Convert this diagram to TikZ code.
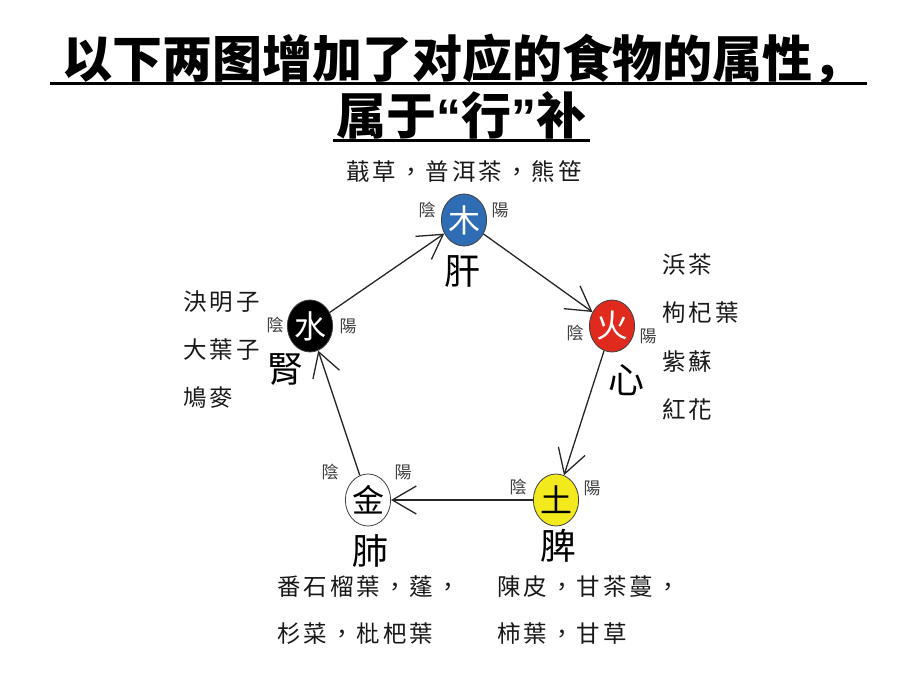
\documentclass[tikz,border=0pt]{standalone}
\usepackage{fontspec}
\usetikzlibrary{arrows.meta,shapes.geometric}
\newfontfamily\titlefont{Noto Sans CJK SC}
\newfontfamily\tcfont{Noto Sans CJK TC}
\newfontfamily\foodfont{Noto Sans CJK TC}[LetterSpace=13]
\newfontfamily\quotefont{Liberation Sans}
\definecolor{mublue}{HTML}{2E6DB4}
\definecolor{huored}{HTML}{E02A1E}
\definecolor{tuyellow}{HTML}{F2EA1C}
\tikzset{
  elem/.style={ellipse, draw=black!75, line width=0.8, minimum width=45, minimum height=52, inner sep=0,
    font=\tcfont\fontsize{32}{32}\selectfont},
  organ/.style={font=\tcfont\fontsize{36}{36}\selectfont, inner sep=0},
  yy/.style={font=\tcfont\fontsize{17}{17}\selectfont, text=black!75, inner sep=0},
  food/.style={font=\foodfont\fontsize{23.5}{23.5}\selectfont, text=black!90, inner sep=0, anchor=west},
  titletext/.style={font=\titlefont\bfseries\fontsize{50}{50}\selectfont, inner sep=0, anchor=base},
  arr/.style={-{Straight Barb[length=24pt,width=28pt]}, line width=1.3, black!85},
  uline/.style={line width=3}
}
\begin{document}
\begin{tikzpicture}[x=1pt,y=-1pt]
\useasboundingbox[fill=white] (0,0) rectangle (920,690);
% title
\node[titletext] (t1) at (462,78) {以下两图增加了对应的食物的属性，};
\node[titletext] (t2) at (461,134) {属于{\quotefont\bfseries “}行{\quotefont\bfseries ”}补};
\draw[uline] (50,84) -- (867,84);
\draw[uline] (333,140) -- (590,140);
% elements
\node[elem, fill=mublue, text=white] (mu) at (464,220) {木};
\node[elem, fill=huored, text=white] (huo) at (612,326) {火};
\node[elem, fill=tuyellow, text=black] (tu) at (556,500) {土};
\node[elem, fill=white, text=black] (jin) at (368,500) {金};
\node[elem, fill=black, text=white] (shui) at (310,326) {水};
% organs
\node[organ] (gan) at (462,272) {肝};
\node[organ] (xin) at (626,380) {心};
\node[organ] (pi) at (558,546) {脾};
\node[organ] (fei) at (370,551) {肺};
\node[organ] (shen) at (285,370) {腎};
% yin yang
\node[yy] (muyin) at (427,210) {陰};
\node[yy] (muyang) at (500,210) {陽};
\node[yy] (huoyin) at (575,333) {陰};
\node[yy] (huoyang) at (648,336) {陽};
\node[yy] (tuyin) at (518,487) {陰};
\node[yy] (tuyang) at (592,488) {陽};
\node[yy] (jinyin) at (330,472) {陰};
\node[yy] (jinyang) at (403,472) {陽};
\node[yy] (shuiyin) at (275,325) {陰};
\node[yy] (shuiyang) at (348,326) {陽};
% arrows
\draw[arr] (shui) -- (mu);
\draw[arr] (mu) -- (huo);
\draw[arr] (huo) -- (tu);
\draw[arr] (tu) -- (jin);
\draw[arr] (jin) -- (shui);
% foods
\node[food, anchor=center] (fmu) at (464,172) {蕺草，普洱茶，熊笹};
\node[food] (fs1) at (183,302) {決明子};
\node[food] (fs2) at (183,350) {大葉子};
\node[food] (fs3) at (183,398) {鳩麥};
\node[food] (fh1) at (662,265) {浜茶};
\node[food] (fh2) at (662,313) {枸杞葉};
\node[food] (fh3) at (662,362) {紫蘇};
\node[food] (fh4) at (662,410) {紅花};
\node[food] (fj1) at (277,587) {番石榴葉，蓬，};
\node[food] (fj2) at (277,634) {杉菜，枇杷葉};
\node[food] (ft1) at (497,587) {陳皮，甘茶蔓，};
\node[food] (ft2) at (497,634) {柿葉，甘草};
\end{tikzpicture}
\end{document}
